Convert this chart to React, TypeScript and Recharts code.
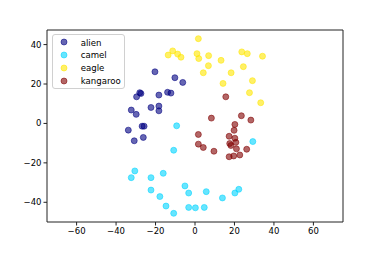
import { Legend, ReferenceLine, Scatter, ScatterChart, XAxis, YAxis } from "recharts";

// [x, y] points per category
const alien: [number, number][] = [
  [-20.3, 26.2], [-10.2, 23.2], [-6.2, 20.8], [-28, 15.6], [-27.4, 15.2],
  [-29.6, 13.5], [-18.3, 14.4], [-13.9, 15.8], [-12.2, 15.4], [-32.3, 6.8],
  [-29.8, 4.6], [-22.3, 8.1], [-18.3, 8.8], [-18.3, 6.4], [-26.8, -1.4],
  [-25.8, -1.4], [-33.8, -3.4], [-30.8, -8.8], [-26.2, -7.1],
];
const camel: [number, number][] = [
  [-9.3, -1.2], [-10.8, -13.6], [-30.5, -24.1], [-32.3, -27.5], [-22.3, -27.5],
  [-16.1, -25.3], [-22.3, -33.8], [-17.8, -37.1], [-14.7, -41.9], [-10.8, -45.6],
  [-5.1, -31.7], [-3.2, -35.3], [-3.2, -42.6], [0.2, -42.8], [5.7, -34.6],
  [4.7, -42.6], [13.9, -37.8], [20.2, -35.3], [22.2, -33.4], [29.3, -9.2],
];
const eagle: [number, number][] = [
  [-13.6, 34.7], [-11.3, 36.8], [-8.8, 35.2], [-7.1, 33.6], [1.7, 43],
  [1, 35.4], [1.9, 32.9], [6.9, 34.4], [6.8, 29.3], [4.2, 25.7],
  [13.2, 32], [18.3, 25.7], [23.7, 36.3], [26.5, 35.4], [24.5, 28.8],
  [34.2, 34.1], [14.2, 20.3], [29.1, 21.7], [27.6, 15.6], [33.3, 10.5],
];
const kangaroo: [number, number][] = [
  [15.6, 13.5], [8.3, 2.7], [23.5, 3.9], [28.3, 1.7], [20.2, -0.5],
  [1.7, -5.6], [1.7, -10.5], [4.2, -12.2], [9.6, -14.1], [19.8, -3.5],
  [17.3, -6.5], [20.2, -7.5], [20.7, -9.6], [17.6, -10.2], [18.2, -11.2],
  [21, -12.9], [26.2, -13.1], [22.7, -16], [19.6, -16.5], [17.3, -16.9],
];

const xTicks = [-60, -40, -20, 0, 20, 40, 60];
const yTicks = [-40, -20, 0, 20, 40];

const SERIES = [
  { name: "alien", color: "#000080", points: alien },
  { name: "camel", color: "#00d4ff", points: camel },
  { name: "eagle", color: "#ffe600", points: eagle },
  { name: "kangaroo", color: "#800000", points: kangaroo },
];

const FONT = "DejaVu Sans, sans-serif";
const R = 3;
const fmt = (v: number) => String(v).replace("-", "\u2212");

function Dot(props: any) {
  const { cx, cy, fill } = props;
  return (
    <circle
      cx={cx}
      cy={cy}
      r={R}
      fill={fill}
      fillOpacity={0.6}
      stroke={fill}
      strokeOpacity={0.6}
      strokeWidth={0.9}
    />
  );
}

function LegendBox() {
  return (
    <div
      style={{
        position: "relative",
        width: 73,
        height: 55,
        boxSizing: "border-box",
        background: "rgba(255,255,255,0.8)",
        border: "1px solid #d0d0d0",
        borderRadius: 3,
        fontFamily: FONT,
        fontSize: 8.6,
        color: "#000",
      }}
    >
      {SERIES.map((s, i) => (
        <div key={s.name}>
          <svg
            width={10}
            height={10}
            style={{ position: "absolute", left: 6.3, top: 2.3 + i * 12.9 }}
          >
            <circle
              cx={5}
              cy={5}
              r={R}
              fill={s.color}
              fillOpacity={0.6}
              stroke={s.color}
              strokeOpacity={0.6}
              strokeWidth={0.9}
            />
          </svg>
          <span
            style={{
              position: "absolute",
              left: 27.7,
              top: 1.5 + i * 12.9,
              lineHeight: "12px",
              whiteSpace: "nowrap",
            }}
          >
            {s.name}
          </span>
        </div>
      ))}
    </div>
  );
}

export default function App() {
  return (
    <div style={{ position: "absolute", left: 0, top: 0, background: "#fff" }}>
      <ScatterChart
        width={382}
        height={254}
        margin={{ top: 30, right: 39, bottom: 0, left: 0 }}
      >
        <XAxis
          type="number"
          dataKey="x"
          domain={[-75, 75]}
          ticks={xTicks}
          tickFormatter={fmt}
          height={32}
          tickSize={3.5}
          tickMargin={2}
          stroke="#222"
          tick={{ fill: "#000", fontSize: 8.5, fontFamily: FONT }}
          allowDataOverflow
        />
        <YAxis
          type="number"
          dataKey="y"
          domain={[-50, 47.4]}
          ticks={yTicks}
          tickFormatter={fmt}
          width={47}
          tickSize={3.5}
          tickMargin={2}
          stroke="#222"
          tick={{ fill: "#000", fontSize: 8.5, fontFamily: FONT }}
          allowDataOverflow
        />
        <ReferenceLine x={75} stroke="#222" strokeWidth={1} />
        <ReferenceLine y={47.4} stroke="#222" strokeWidth={1} />
        {SERIES.map((s) => (
          <Scatter
            key={s.name}
            name={s.name}
            data={s.points.map(([x, y]) => ({ x, y }))}
            fill={s.color}
            shape={<Dot />}
            isAnimationActive={false}
          />
        ))}
        <Legend
          layout="vertical"
          align="center"
          verticalAlign="middle"
          content={() => <LegendBox />}
          wrapperStyle={{ left: 52, top: 34, width: 73, height: 55 }}
        />
      </ScatterChart>
    </div>
  );
}
